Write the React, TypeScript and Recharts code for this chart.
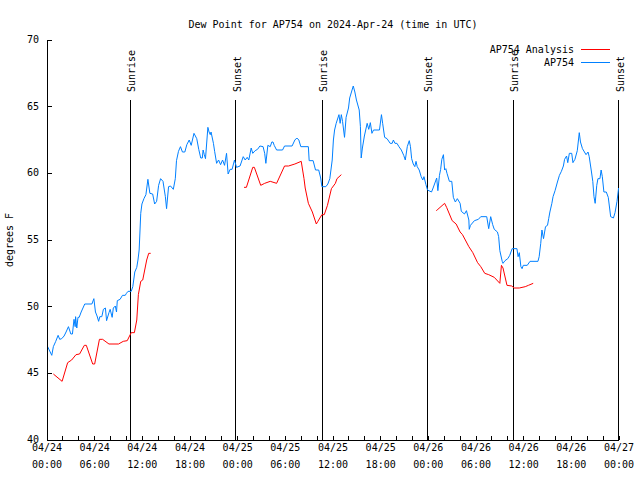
import React from 'react'
import { LineChart, Line, XAxis, YAxis, ReferenceLine } from 'recharts'

const FONT = '"DejaVu Sans Mono", monospace'
const RED = '#ff0000'
const BLUE = '#0080ff'

// hours since 2024-04-24 00:00 UTC, dew point in F
const ap754Day1 = [
  [0.0, 47.1], [0.4, 46.6], [0.6, 46.35], [0.8, 47.0], [1.1, 47.4], [1.4, 47.85], [1.6, 47.55], [1.85, 47.6],
  [2.15, 47.8], [2.4, 48.1], [2.7, 48.5], [3.0, 47.95], [3.2, 47.95], [3.4, 49.05], [3.55, 48.5], [3.6, 49.25],
  [3.75, 48.4], [3.9, 49.2], [4.05, 49.2], [4.3, 49.6], [4.75, 50.2], [5.65, 50.2], [5.9, 50.6], [6.1, 49.6],
  [6.3, 49.3], [6.5, 48.9], [6.65, 49.25], [6.9, 49.25], [7.1, 49.8], [7.35, 49.9], [7.5, 48.95], [7.8, 49.55],
  [7.95, 49.8], [8.2, 49.2], [8.35, 49.9], [8.6, 50.05], [8.75, 49.6], [8.85, 50.45], [9.2, 50.55], [9.5, 50.85],
  [9.85, 50.85], [10.0, 51.0], [10.2, 51.15], [10.6, 51.15], [10.8, 51.5], [11.05, 52.6], [11.3, 52.95],
  [11.45, 53.5], [11.6, 54.25], [11.7, 55.6], [11.8, 57.0], [11.95, 57.7], [12.2, 58.1], [12.45, 58.4],
  [12.7, 59.55], [12.95, 58.5], [13.3, 58.45], [13.55, 57.7], [13.8, 57.9], [14.05, 59.1], [14.3, 59.6],
  [14.6, 59.4], [14.9, 58.25], [15.05, 57.35], [15.3, 59.0], [15.55, 59.05], [15.9, 58.8], [16.15, 59.6],
  [16.3, 60.95], [16.55, 61.65], [16.8, 62.0], [17.05, 61.6], [17.35, 61.6], [17.6, 62.15], [17.9, 62.5],
  [18.15, 62.1], [18.5, 63.0], [18.85, 62.6], [19.1, 61.8], [19.35, 61.15], [19.55, 61.15], [19.65, 61.75],
  [19.8, 61.4], [19.95, 61.1], [20.25, 63.45], [20.4, 63.1], [20.55, 62.9], [20.65, 63.1], [20.95, 62.25],
  [21.1, 61.65], [21.35, 60.75], [21.6, 61.0], [21.85, 60.65], [22.1, 61.0], [22.35, 60.6], [22.6, 61.5],
  [22.8, 59.95], [23.05, 60.3], [23.3, 60.3], [23.6, 61.0], [23.85, 60.45],
]

const ap754Day2 = [
  [24.3, 60.55], [24.7, 61.25], [24.95, 61.0], [25.2, 61.2], [25.4, 61.0], [25.7, 61.9], [25.9, 61.5],
  [26.2, 61.7], [26.5, 61.8], [26.8, 62.05], [27.2, 62.0], [27.4, 61.5], [27.55, 60.75], [27.8, 62.1],
  [28.1, 62.0], [28.3, 62.35], [28.45, 62.35], [28.6, 62.1], [28.9, 61.75], [29.65, 61.75], [29.9, 62.05],
  [30.85, 62.05], [31.2, 62.5], [31.45, 62.65], [31.7, 62.5], [31.95, 62.0], [32.9, 62.0], [33.0, 60.95],
  [33.5, 60.95], [33.8, 60.25], [34.2, 60.25], [34.45, 59.65], [34.6, 59.0], [35.1, 59.0], [35.35, 59.2],
  [35.6, 59.6], [35.9, 61.0], [36.05, 62.5], [36.2, 63.25], [36.4, 63.75], [36.75, 64.4], [36.9, 63.75],
  [37.05, 64.4], [37.2, 63.9], [37.45, 62.7], [37.65, 64.2], [37.95, 64.9], [38.1, 65.65], [38.55, 66.55],
  [38.75, 66.1], [38.95, 65.5], [39.3, 64.75], [39.45, 63.5], [39.55, 61.15], [39.7, 61.9], [39.95, 62.8],
  [40.3, 63.75], [40.5, 63.3], [40.7, 63.8], [40.9, 63.0], [41.1, 63.25], [41.85, 63.25], [42.1, 64.4],
  [42.25, 63.75], [42.5, 62.7], [42.8, 62.6], [43.2, 62.25], [43.45, 62.25], [43.6, 62.5], [43.8, 62.25],
  [44.05, 62.25], [44.3, 62.0], [44.6, 61.75], [44.9, 61.35], [45.1, 61.0], [45.35, 62.0], [45.6, 62.45],
  [45.75, 62.0], [45.9, 61.1], [46.1, 60.7], [46.3, 60.5], [46.45, 60.9], [46.6, 60.5], [46.85, 60.25],
  [47.1, 59.75], [47.3, 59.5], [47.45, 59.75], [47.7, 59.15], [47.9, 58.75],
]

const ap754Day3 = [
  [48.4, 58.6], [48.6, 58.9], [49.05, 59.65], [49.2, 58.7], [49.4, 59.85], [49.55, 60.3], [49.7, 61.05],
  [49.9, 61.4], [50.05, 60.25], [50.2, 60.35], [50.35, 60.0], [50.65, 59.4], [50.95, 59.4], [51.15, 58.2],
  [51.4, 57.85], [51.65, 58.1], [52.0, 57.75], [52.15, 57.15], [52.55, 56.95], [52.8, 57.2], [53.1, 56.5],
  [53.15, 55.8], [53.3, 56.1], [53.8, 56.45], [54.3, 56.55], [54.6, 56.75], [55.35, 56.75], [55.6, 55.85],
  [55.85, 56.75], [56.1, 56.15], [56.3, 55.8], [56.7, 55.6], [56.85, 55.25], [57.0, 54.2], [57.3, 53.4],
  [57.4, 53.25], [57.65, 53.45], [58.0, 53.6], [58.25, 53.85], [58.55, 54.35], [59.15, 54.35], [59.3, 53.75],
  [59.45, 54.05], [59.65, 53.0], [59.8, 52.85], [59.95, 53.1], [60.45, 53.1], [60.8, 53.4], [61.8, 53.4],
  [61.95, 53.75], [62.15, 54.75], [62.3, 55.75], [62.5, 55.1], [62.75, 56.0], [63.0, 56.1], [63.15, 56.6],
  [63.3, 57.1], [63.55, 57.75], [63.7, 58.25], [63.95, 58.7], [64.25, 59.35], [64.5, 59.85], [64.75, 60.15],
  [65.0, 60.55], [65.15, 61.05], [65.4, 61.3], [65.55, 60.8], [65.75, 61.5], [66.05, 61.5], [66.2, 60.8],
  [66.45, 61.05], [66.75, 61.7], [67.0, 63.05], [67.15, 62.35], [67.4, 61.85], [67.65, 61.6], [67.85, 61.4],
  [68.1, 61.6], [68.25, 61.25], [68.5, 60.25], [68.7, 59.4], [68.85, 58.25], [69.0, 57.75], [69.2, 59.1],
  [69.35, 59.6], [69.6, 59.6], [69.75, 60.25], [69.9, 59.75], [70.1, 58.6], [70.4, 58.6], [70.65, 58.2],
  [70.95, 56.75], [71.3, 56.65], [71.5, 57.05], [71.75, 57.9], [71.95, 58.9],
]

const analysisDay1 = [
  [0.8, 44.95], [1.9, 44.4], [2.6, 45.8], [3.1, 46.0], [3.65, 46.4], [4.1, 46.45], [4.7, 47.1], [4.95, 47.1],
  [5.75, 45.7], [6.0, 45.7], [6.6, 47.55], [7.0, 47.55], [7.8, 47.2], [9.0, 47.2], [9.6, 47.4], [10.1, 47.45],
  [10.6, 48.05], [11.0, 48.05], [11.3, 49.0], [11.5, 50.9], [11.8, 51.9], [12.05, 52.0], [12.55, 53.5],
  [12.8, 54.0], [13.05, 54.0],
]

const analysisDay2 = [
  [24.8, 58.95], [25.1, 58.95], [25.9, 60.45], [26.1, 60.45], [26.9, 59.1], [27.4, 59.25], [28.1, 59.4],
  [28.9, 59.25], [29.9, 60.55], [30.4, 60.55], [31.2, 60.7], [32.0, 60.9], [32.35, 59.6], [32.5, 58.9],
  [32.9, 57.75], [33.4, 57.1], [33.9, 56.2], [34.1, 56.4], [34.6, 56.9], [34.9, 56.9], [35.3, 57.6],
  [35.8, 58.85], [36.3, 59.25], [36.5, 59.6], [37.05, 59.9],
]

const analysisDay3 = [
  [49.0, 57.2], [49.2, 57.3], [50.05, 57.75], [50.3, 57.45], [51.0, 56.45], [51.5, 56.2], [52.0, 55.6],
  [52.3, 55.4], [53.1, 54.5], [53.6, 54.05], [54.2, 53.3], [54.6, 53.0], [55.1, 52.5], [55.6, 52.4],
  [56.3, 52.2], [57.0, 51.75], [57.2, 53.1], [57.4, 52.9], [57.9, 51.6], [58.5, 51.55], [58.8, 51.4],
  [59.45, 51.4], [60.2, 51.5], [60.6, 51.6], [61.2, 51.75],
]

const sunHours = [10.45, 23.79, 34.62, 47.87, 58.7, 71.98]
const sunNames = ['Sunrise', 'Sunset', 'Sunrise', 'Sunset', 'Sunrise', 'Sunset']

const hourTicks = [0, 2, 4, 6, 8, 10, 12, 14, 16, 18, 20, 22, 24, 26, 28, 30, 32, 34, 36, 38, 40, 42, 44, 46, 48,
  50, 52, 54, 56, 58, 60, 62, 64, 66, 68, 70, 72]
const dayLabels = ['04/24', '04/24', '04/24', '04/24', '04/25', '04/25', '04/25', '04/25', '04/26', '04/26',
  '04/26', '04/26', '04/27']
const clockLabels = ['00:00', '06:00', '12:00', '18:00', '00:00', '06:00', '12:00', '18:00', '00:00', '06:00',
  '12:00', '18:00', '00:00']
const dewTicks = [40, 45, 50, 55, 60, 65, 70]

const toRows = (pts: number[][]) => pts.map(([h, v]) => ({ h, v }))
const ap754 = toRows([...ap754Day1, ...ap754Day2, ...ap754Day3])
// null rows break the analysis line between runs
const analysis = [
  ...toRows(analysisDay1), { h: 18, v: null },
  ...toRows(analysisDay2), { h: 43, v: null },
  ...toRows(analysisDay3),
]

const txt = { fontFamily: FONT, fontSize: 10, fill: '#000' }

function BottomTick(props: any) {
  const { x, y, payload } = props
  const h = payload.value
  const idx = h / 6
  return (
    <g>
      <line x1={x} y1={y} x2={x} y2={y - 4} stroke='#000' shapeRendering='crispEdges' />
      {h % 6 === 0 && (
        <>
          <text x={x} y={y + 11} textAnchor='middle' {...txt}>{dayLabels[idx]}</text>
          <text x={x} y={y + 28} textAnchor='middle' {...txt}>{clockLabels[idx]}</text>
        </>
      )}
    </g>
  )
}

function TopTick(props: any) {
  const { x, y } = props
  return <line x1={x} y1={y} x2={x} y2={y + 4} stroke='#000' shapeRendering='crispEdges' />
}

function LeftTick(props: any) {
  const { x, y, payload } = props
  return (
    <g>
      <line x1={x} y1={y} x2={x + 5} y2={y} stroke='#000' shapeRendering='crispEdges' />
      <text x={x - 8} y={y + 3} textAnchor='end' {...txt}>{payload.value}</text>
    </g>
  )
}

function RightTick(props: any) {
  const { x, y } = props
  return <line x1={x} y1={y} x2={x - 5} y2={y} stroke='#000' shapeRendering='crispEdges' />
}

const sunLabel = (name: string) => (props: any) => {
  const { x, y } = props.viewBox
  const tx = x + 5
  const ty = y - 8
  return <text x={tx} y={ty} transform={`rotate(-90 ${tx} ${ty})`} {...txt}>{name}</text>
}

export default function App() {
  return (
    <div style={{ position: 'absolute', left: 0, top: 0, width: 640, height: 480, background: '#fff' }}>
      <LineChart width={640} height={480} margin={{ top: 40, right: 21, bottom: 0, left: 0 }}>
        <XAxis
          dataKey='h' type='number' domain={[0, 72]} ticks={hourTicks} allowDataOverflow
          height={40} tickSize={0} tickMargin={0} tickLine={false} tick={BottomTick} interval={0}
          axisLine={{ stroke: '#000', shapeRendering: 'crispEdges' }}
        />
        <XAxis
          xAxisId='top' orientation='top' dataKey='h' type='number' domain={[0, 72]} ticks={hourTicks}
          allowDataOverflow height={0} tickSize={0} tickMargin={0} tickLine={false} tick={TopTick} interval={0}
          axisLine={{ stroke: '#000', shapeRendering: 'crispEdges' }}
        />
        <YAxis
          type='number' domain={[40, 70]} ticks={dewTicks} allowDataOverflow width={47}
          tickSize={0} tickMargin={0} tickLine={false} tick={LeftTick} interval={0}
          axisLine={{ stroke: '#000', shapeRendering: 'crispEdges' }}
        />
        <YAxis
          yAxisId='right' orientation='right' type='number' domain={[40, 70]} ticks={dewTicks}
          allowDataOverflow width={0} tickSize={0} tickMargin={0} tickLine={false} tick={RightTick} interval={0}
          axisLine={{ stroke: '#000', shapeRendering: 'crispEdges' }}
        />
        {sunHours.map((h, i) => (
          <ReferenceLine
            key={i}
            segment={[{ x: h, y: 40 }, { x: h, y: 65.5 }]}
            stroke='#000'
            shapeRendering='crispEdges'
            label={sunLabel(sunNames[i])}
          />
        ))}
        <Line
          data={analysis} dataKey='v' name='AP754 Analysis' stroke={RED} strokeWidth={1}
          dot={false} type='linear' isAnimationActive={false}
        />
        <Line
          data={ap754} dataKey='v' name='AP754' stroke={BLUE} strokeWidth={1}
          dot={false} type='linear' isAnimationActive={false}
        />
      </LineChart>
      <div
        style={{
          position: 'absolute', left: 0, top: 19, width: 666, textAlign: 'center',
          fontFamily: FONT, fontSize: 10, lineHeight: '12px',
        }}
      >
        Dew Point for AP754 on 2024-Apr-24 (time in UTC)
      </div>
      <div
        style={{
          position: 'absolute', left: -40, top: 234, width: 100, height: 12, textAlign: 'center',
          fontFamily: FONT, fontSize: 10, lineHeight: '12px', transform: 'rotate(-90deg)',
        }}
      >
        degrees F
      </div>
      <div
        style={{
          position: 'absolute', right: 30, top: 43, fontFamily: FONT, fontSize: 10, lineHeight: '13px',
        }}
      >
        {[['AP754 Analysis', RED], ['AP754', BLUE]].map(([name, color]) => (
          <div key={name} style={{ display: 'flex', justifyContent: 'flex-end', alignItems: 'center' }}>
            <span>{name}</span>
            <span style={{ display: 'inline-block', width: 29, marginLeft: 7, borderTop: `1px solid ${color}` }} />
          </div>
        ))}
      </div>
    </div>
  )
}
